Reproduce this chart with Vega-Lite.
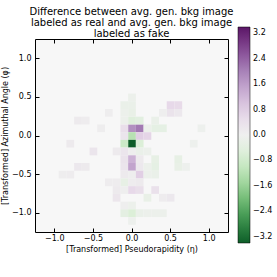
{
  "$schema": "https://vega.github.io/schema/vega-lite/v6.json",
  "width": 193,
  "height": 193,
  "autosize": "none",
  "padding": {"left": 35, "top": 39, "right": 49, "bottom": 45},
  "background": "white",
  "config": {
    "font": "DejaVu Sans",
    "view": {"fill": "#f7f7f7", "stroke": "#000", "strokeWidth": 1}
  },
  "title": {
    "text": ["Difference between avg. gen. bkg image", "labeled as real and avg. gen. bkg image", "labeled as fake"],
    "fontSize": 10,
    "fontWeight": "normal",
    "font": "DejaVu Sans",
    "anchor": "middle",
    "offset": -12,
    "color": "#000",
    "lineHeight": 11
  },
  "data": {
    "values": [
      {"eta": -0.05, "phi": 0.05, "v": 1.8},
      {"eta": 0.05, "phi": 0.05, "v": 2.1},
      {"eta": -0.15, "phi": 0.05, "v": 0.45},
      {"eta": -0.05, "phi": -0.05, "v": -1.2},
      {"eta": 0.05, "phi": -0.05, "v": 0.8},
      {"eta": 0.15, "phi": -0.05, "v": 0.7},
      {"eta": -0.15, "phi": -0.05, "v": 0.3},
      {"eta": -0.05, "phi": -0.15, "v": -3.4},
      {"eta": -0.15, "phi": -0.15, "v": -0.9},
      {"eta": 0.05, "phi": -0.15, "v": -0.6},
      {"eta": -0.05, "phi": 0.15, "v": -0.5},
      {"eta": 0.05, "phi": 0.15, "v": -0.4},
      {"eta": -0.15, "phi": 0.15, "v": -0.1},
      {"eta": -0.05, "phi": 0.25, "v": -0.2},
      {"eta": -0.15, "phi": 0.25, "v": -0.1},
      {"eta": -0.05, "phi": 0.35, "v": -0.15},
      {"eta": -0.15, "phi": 0.35, "v": -0.15},
      {"eta": -0.05, "phi": 0.45, "v": -0.1},
      {"eta": 0.25, "phi": 0.05, "v": -0.3},
      {"eta": 0.35, "phi": 0.05, "v": -0.3},
      {"eta": 0.25, "phi": 0.15, "v": -0.15},
      {"eta": 0.15, "phi": 0.05, "v": -0.1},
      {"eta": 0.45, "phi": 0.35, "v": 0.6},
      {"eta": 0.55, "phi": 0.35, "v": 0.55},
      {"eta": 0.45, "phi": 0.25, "v": 0.35},
      {"eta": 0.55, "phi": 0.25, "v": 0.2},
      {"eta": -0.15, "phi": -0.25, "v": 0.3},
      {"eta": -0.25, "phi": -0.25, "v": 0.15},
      {"eta": -0.05, "phi": -0.25, "v": 0.05},
      {"eta": 0.05, "phi": -0.25, "v": -0.15},
      {"eta": 0.15, "phi": -0.25, "v": -0.1},
      {"eta": -0.15, "phi": -0.35, "v": 0.35},
      {"eta": -0.05, "phi": -0.35, "v": 1.3},
      {"eta": 0.05, "phi": -0.35, "v": 0.15},
      {"eta": -0.15, "phi": -0.45, "v": 0.3},
      {"eta": -0.05, "phi": -0.45, "v": 1.5},
      {"eta": 0.05, "phi": -0.45, "v": 0.2},
      {"eta": 0.15, "phi": -0.45, "v": -0.1},
      {"eta": 0.25, "phi": -0.35, "v": -0.25},
      {"eta": 0.25, "phi": -0.45, "v": -0.3},
      {"eta": 0.55, "phi": -0.35, "v": -0.25},
      {"eta": 0.55, "phi": -0.45, "v": -0.2},
      {"eta": 0.65, "phi": -0.45, "v": -0.05},
      {"eta": -0.15, "phi": -0.55, "v": 0.15},
      {"eta": -0.05, "phi": -0.55, "v": 0.05},
      {"eta": 0.05, "phi": -0.55, "v": 0.8},
      {"eta": 0.15, "phi": -0.55, "v": -0.1},
      {"eta": 0.25, "phi": -0.55, "v": -0.15},
      {"eta": -0.15, "phi": -0.65, "v": -0.25},
      {"eta": -0.05, "phi": -0.65, "v": 0.1},
      {"eta": 0.05, "phi": -0.65, "v": 0.15},
      {"eta": -0.25, "phi": -0.65, "v": 0.1},
      {"eta": -0.05, "phi": -0.75, "v": 0.6},
      {"eta": 0.05, "phi": -0.75, "v": 0.45},
      {"eta": 0.25, "phi": -0.75, "v": 0.4},
      {"eta": -0.15, "phi": -0.75, "v": 0.05},
      {"eta": -0.25, "phi": -0.75, "v": 0.15},
      {"eta": -0.25, "phi": -0.85, "v": 0.25},
      {"eta": 0.15, "phi": -0.85, "v": -0.2},
      {"eta": 0.45, "phi": -0.85, "v": 0.2},
      {"eta": 0.35, "phi": -0.85, "v": 0.1},
      {"eta": -0.15, "phi": -0.95, "v": 0.05},
      {"eta": -0.05, "phi": -0.95, "v": -0.1},
      {"eta": -0.15, "phi": -1.05, "v": -0.35},
      {"eta": -0.05, "phi": -1.05, "v": -0.6},
      {"eta": 0.05, "phi": -1.05, "v": -0.15},
      {"eta": 0.15, "phi": -1.05, "v": -0.1},
      {"eta": 0.25, "phi": -1.05, "v": -0.1},
      {"eta": 0.35, "phi": -1.05, "v": -0.1},
      {"eta": -0.05, "phi": -1.15, "v": -0.05},
      {"eta": -0.55, "phi": -0.25, "v": 0.3},
      {"eta": -0.85, "phi": -0.15, "v": 0.15},
      {"eta": -0.75, "phi": 0.15, "v": 0.15},
      {"eta": -0.65, "phi": 0.15, "v": 0.1},
      {"eta": -0.75, "phi": -0.45, "v": 0.2},
      {"eta": -0.65, "phi": -0.45, "v": 0.15},
      {"eta": -0.85, "phi": -0.55, "v": 0.1},
      {"eta": -0.95, "phi": -0.55, "v": 0.08},
      {"eta": -0.35, "phi": 0.25, "v": 0.08},
      {"eta": -0.35, "phi": -0.65, "v": 0.1},
      {"eta": 0.75, "phi": -0.15, "v": -0.05},
      {"eta": 0.85, "phi": 0.05, "v": -0.05},
      {"eta": 0.35, "phi": 0.25, "v": 0.05},
      {"eta": -0.45, "phi": 0.05, "v": 0.08}
    ]
  },
  "layer": [
    {
      "mark": {"type": "rect"},
      "encoding": {
        "x": {
          "field": "eta", "type": "quantitative",
          "bin": {"binned": true, "step": 0.1},
          "scale": {"domain": [-1.25, 1.25], "nice": false, "zero": false},
          "axis": {
            "orient": "bottom", "values": [-1, -0.5, 0, 0.5, 1], "format": ".1f",
            "title": "[Transformed] Pseudorapidity (η)",
            "labelFontSize": 8, "titleFontSize": 8, "titleFontWeight": "normal",
            "tickSize": -4, "tickColor": "#000", "labelColor": "#000", "titleColor": "#000",
            "domain": false, "grid": false, "labelPadding": 6, "titlePadding": 3, "labelFlush": false
          }
        },
        "y": {
          "field": "phi", "type": "quantitative",
          "bin": {"binned": true, "step": 0.1},
          "scale": {"domain": [-1.25, 1.25], "nice": false, "zero": false},
          "axis": {
            "orient": "left", "values": [-1, -0.5, 0, 0.5, 1], "format": ".1f",
            "title": "[Transformed] Azimuthal Angle (φ)",
            "labelFontSize": 8, "titleFontSize": 8, "titleFontWeight": "normal",
            "tickSize": -4, "tickColor": "#000", "labelColor": "#000", "titleColor": "#000",
            "domain": false, "grid": false, "labelPadding": 8, "titlePadding": 2, "labelFlush": false
          }
        },
        "color": {
          "field": "v", "type": "quantitative",
          "scale": {"scheme": "purplegreen", "reverse": true, "domain": [-3.4, 3.4]},
          "legend": {
            "orient": "none", "legendX": 203, "legendY": -12, "direction": "vertical",
            "gradientLength": 216, "gradientThickness": 12, "title": null,
            "values": [-3.2, -2.4, -1.6, -0.8, 0, 0.8, 1.6, 2.4, 3.2], "format": ".1f",
            "labelFontSize": 8, "labelColor": "#000", "labelOffset": 3,
            "gradientStrokeColor": "#000", "gradientStrokeWidth": 0.5
          }
        }
      }
    },
    {
      "mark": {"type": "rect", "opacity": 0},
      "encoding": {
        "x": {
          "field": "eta", "type": "quantitative",
          "bin": {"binned": true, "step": 0.1},
          "scale": {"domain": [-1.25, 1.25], "nice": false, "zero": false},
          "axis": {
            "orient": "top", "values": [-1, -0.5, 0, 0.5, 1], "labels": false, "title": null,
            "tickSize": -4, "tickColor": "#000", "domain": false, "grid": false
          }
        },
        "y": {
          "field": "phi", "type": "quantitative",
          "bin": {"binned": true, "step": 0.1},
          "scale": {"domain": [-1.25, 1.25], "nice": false, "zero": false},
          "axis": {
            "orient": "right", "values": [-1, -0.5, 0, 0.5, 1], "labels": false, "title": null,
            "tickSize": -4, "tickColor": "#000", "domain": false, "grid": false
          }
        }
      }
    }
  ],
  "resolve": {"axis": {"x": "independent", "y": "independent"}}
}
